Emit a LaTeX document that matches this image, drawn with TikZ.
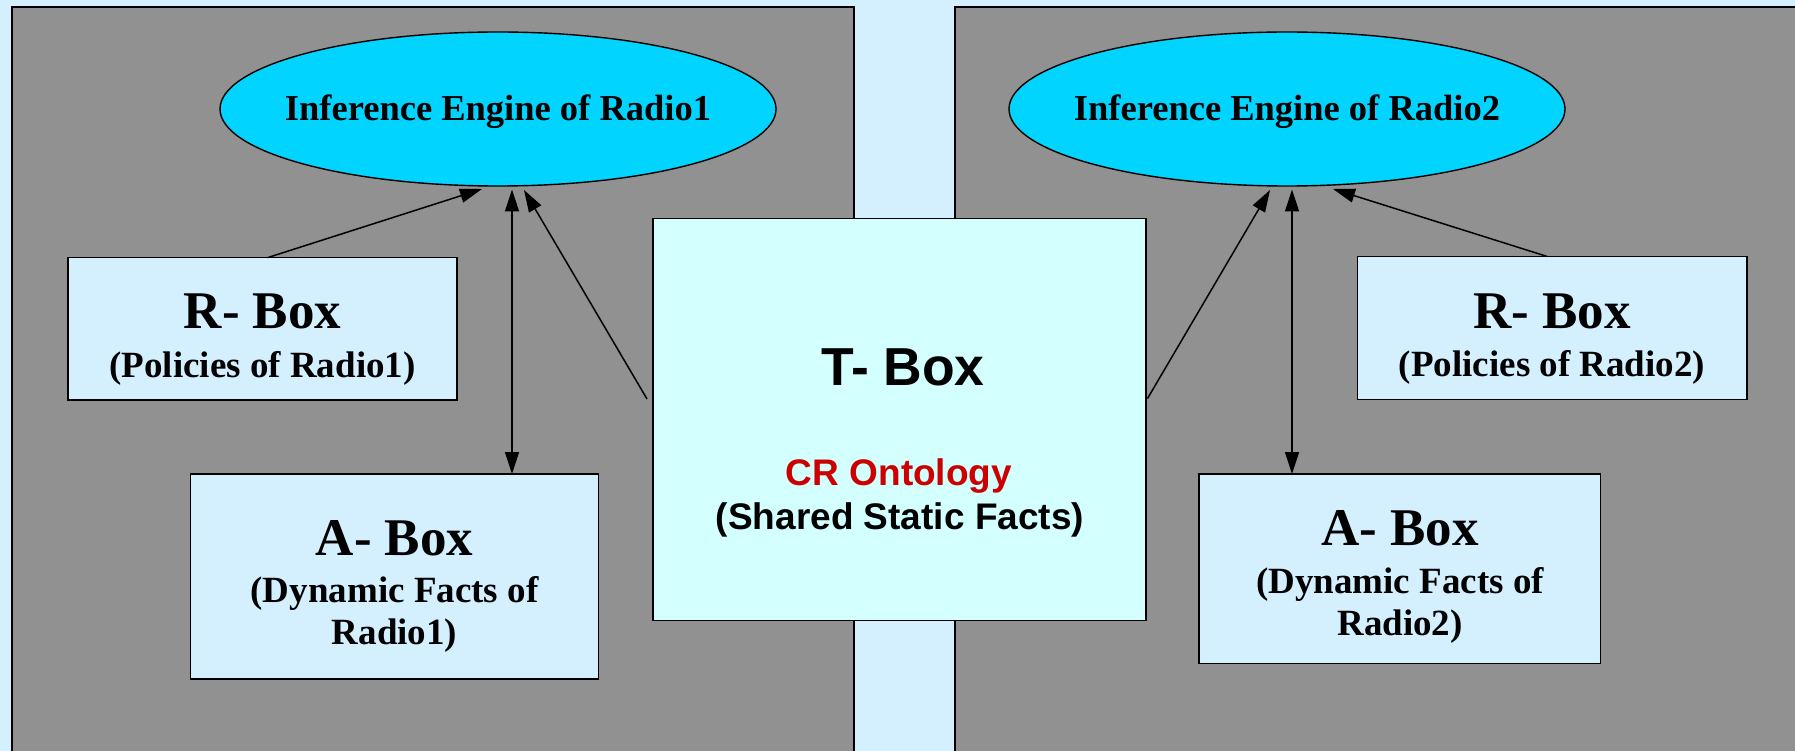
\documentclass[tikz,border=0pt]{standalone}
\usepackage{fontspec}
\setmainfont{Liberation Serif}
\newfontfamily\arialf{Liberation Sans}
\usetikzlibrary{arrows.meta,shapes.geometric,calc}
\definecolor{bgblue}{RGB}{212,240,255}
\definecolor{panelgray}{RGB}{145,145,145}
\definecolor{engcyan}{RGB}{0,212,255}
\definecolor{tcyan}{RGB}{212,255,255}
\definecolor{ontred}{RGB}{204,0,0}
\begin{document}
\begin{tikzpicture}[x=1pt,y=-1pt,
  panel/.style={fill=panelgray,draw=black,line width=1.6pt},
  boxnode/.style={rectangle,draw=black,line width=1.6pt,fill=bgblue,inner sep=0pt,outer sep=0pt},
  tnode/.style={boxnode,fill=tcyan},
  engine/.style={ellipse,draw=black,line width=1.4pt,fill=engcyan,inner sep=0pt,outer sep=0pt,
    minimum width=556pt,minimum height=154pt},
  titletxt/.style={anchor=base,inner sep=0pt,font=\fontsize{53}{60}\selectfont\bfseries},
  subtxt/.style={anchor=base,inner sep=0pt,font=\fontsize{37}{42}\selectfont\bfseries},
  engtxt/.style={anchor=base,inner sep=0pt,font=\fontsize{36.5}{42}\selectfont\bfseries},
  ttitle/.style={anchor=base,inner sep=0pt,font=\arialf\fontsize{53.5}{60}\selectfont\bfseries},
  tsub/.style={anchor=base,inner sep=0pt,font=\arialf\fontsize{37}{42}\selectfont\bfseries},
  arr/.style={line width=1.5pt,-{Triangle[length=22pt,width=14pt]}},
  darr/.style={line width=1.5pt,{Triangle[length=22pt,width=14pt]}-{Triangle[length=22pt,width=14pt]}}
]
\useasboundingbox (0,0) rectangle (1795,751);
\clip (0,0) rectangle (1795,751);
\fill[bgblue] (0,0) rectangle (1795,751);
% panels
\draw[panel] (12,7) rectangle (854,770);
\draw[panel] (955,7) rectangle (1810,770);
% engines
\node[engine] (e1) at (498,109) {};
\node[engine] (e2) at (1287,109) {};
\node[engtxt] (e1t) at (498,121) {Inference Engine of Radio1};
\node[engtxt] (e2t) at (1287,121) {Inference Engine of Radio2};
% boxes
\node[boxnode,minimum width=389pt,minimum height=142.5pt] (rb1) at (262.5,328.75) {};
\node[boxnode,minimum width=408pt,minimum height=205pt] (ab1) at (394.5,576.5) {};
\node[tnode,minimum width=493pt,minimum height=402pt] (tb) at (899.5,419.5) {};
\node[boxnode,minimum width=389.5pt,minimum height=143pt] (rb2) at (1552.25,328) {};
\node[boxnode,minimum width=401.5pt,minimum height=189.5pt] (ab2) at (1399.75,568.75) {};
% texts
\node[titletxt] (rb1t) at (262.5,328) {R- Box};
\node[subtxt] (rb1s) at (262.5,377) {(Policies of Radio1)};
\node[titletxt] (ab1t) at (394.5,555) {A- Box};
\node[subtxt] (ab1s) at (394.5,602) {(Dynamic Facts of};
\node[subtxt] (ab1r) at (394.5,644) {Radio1)};
\node[titletxt] (rb2t) at (1552,328) {R- Box};
\node[subtxt] (rb2s) at (1552,376) {(Policies of Radio2)};
\node[titletxt] (ab2t) at (1400,545) {A- Box};
\node[subtxt] (ab2s) at (1400,593) {(Dynamic Facts of};
\node[subtxt] (ab2r) at (1400,635) {Radio2)};
\node[ttitle] (tbt) at (903,385) {T- Box};
\node[tsub,text=ontred] (tbo) at (899,485) {CR Ontology};
\node[tsub] (tbs) at (900,529) {(Shared Static Facts)};
% connectors
\draw[arr] ($(rb1.north)+(5.5,0)$) -- ($(e1.south)+(-16,3)$);
\draw[darr] ($(ab1.north)+(117.5,0)$) -- ($(e1.south)+(14,3.5)$);
\draw[arr] ($(tb.west)+(-6,-20.5)$) -- ($(e1.south)+(26,4)$);
\draw[arr] ($(tb.east)+(1.5,-21)$) -- ($(e2.south)+(-17,4)$);
\draw[darr] ($(ab2.north)+(-107.75,0)$) -- ($(e2.south)+(5,3.5)$);
\draw[arr] ($(rb2.north)+(-5,0)$) -- ($(e2.south)+(46,3)$);
\end{tikzpicture}
\end{document}
